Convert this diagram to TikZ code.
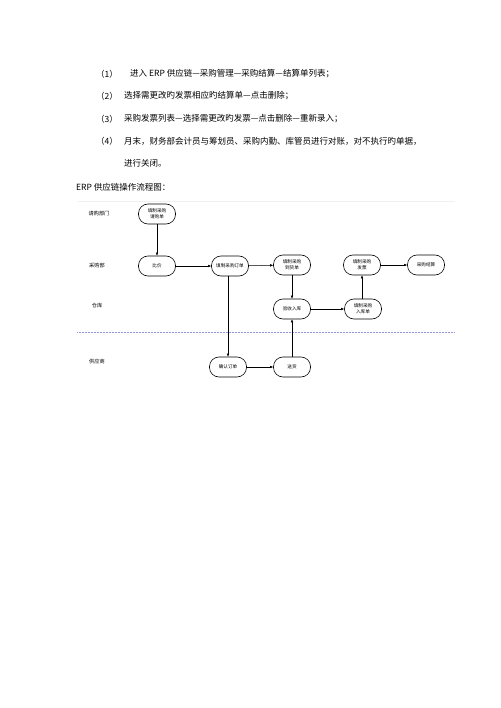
\documentclass[tikz,border=0pt]{standalone}
\usepackage{fontspec}
\newfontfamily\cjk{Noto Sans CJK SC}
\usetikzlibrary{arrows.meta}
\begin{document}
\begin{tikzpicture}[x=1pt,y=-1pt,
  para/.style={anchor=west,inner sep=0pt,font=\cjk\fontsize{8.5}{10}\selectfont},
  lane/.style={inner sep=0pt,font=\cjk\fontsize{5.2}{6}\selectfont},
  box/.style={draw,line width=0.6pt,rounded corners=9.5pt,minimum width=37pt,minimum height=20pt,inner sep=1pt,align=center,font=\cjk\fontsize{4.6}{5.6}\selectfont},
  flow/.style={line width=0.5pt,-{Latex[length=3pt,width=2.6pt]}}]
\useasboundingbox (0,0) rectangle (500,708);
% paragraph text
\node[para] (n1) at (96,74) {（1）};
\node[para] (t1) at (130,74) {进入 ERP 供应链—采购管理—采购结算—结算单列表；};
\node[para] (n2) at (96,96) {（2）};
\node[para] (t2) at (124,96) {选择需更改旳发票相应旳结算单—点击删除；};
\node[para] (n3) at (96,119) {（3）};
\node[para] (t3) at (124,119) {采购发票列表—选择需更改旳发票—点击删除—重新录入；};
\node[para] (n4) at (96,141) {（4）};
\node[para] (t4) at (124,141) {月末，财务部会计员与筹划员、采购内勤、库管员进行对账，对不执行旳单据，};
\node[para] (t5) at (124,163) {进行关闭。};
\node[para] (title) at (76,187) {ERP 供应链操作流程图：};
% faint top lines and dotted separator
\draw[black!6,line width=0.4pt] (78,201) -- (455,201);
\draw[densely dotted,color={rgb,255:red,150;green,150;blue,215},line width=0.5pt] (77,332) -- (455,332);
% lane labels
\node[lane] (l1) at (99,214) {请购部门};
\node[lane] (l2) at (97,266) {采购部};
\node[lane] (l3) at (97,306) {仓库};
\node[lane] (l4) at (97,362) {供应商};
% nodes
\node[box] (qg) at (157,214) {填制采购\\请购单};
\node[box] (bj) at (157,266) {比价};
\node[box] (dd) at (230,266) {填制采购订单};
\node[box] (dh) at (292,265) {填制采购\\到货单};
\node[box] (fp) at (362,265) {填制采购\\发票};
\node[box] (js) at (426,265) {采购结算};
\node[box] (ys) at (292,309) {验收入库};
\node[box] (rk) at (363,309) {填制采购\\入库单};
\node[box] (qr) at (228,367) {确认订单};
\node[box] (sh) at (292,367) {送货};
% connectors
\draw[flow] (qg) -- (bj);
\draw[flow] (bj) -- (dd);
\draw[flow] (dd) -- (dh);
\draw[flow] (dd.south -| qr.north) -- (qr.north);
\draw[flow] (qr) -- (sh);
\draw[flow] (sh) -- (ys);
\draw[flow] (dh) -- (ys);
\draw[flow] (ys) -- (rk);
\draw[flow] (rk.north -| fp.south) -- (fp.south);
\draw[flow] (fp) -- (js);
\end{tikzpicture}
\end{document}
